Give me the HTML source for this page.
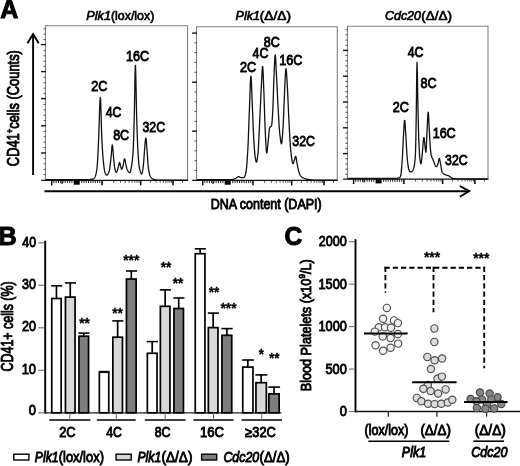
<!DOCTYPE html>
<html><head><meta charset="utf-8"><title>Figure</title>
<style>
html,body{margin:0;padding:0;background:#fff;}
body{width:520px;height:466px;overflow:hidden;font-family:'Liberation Sans', sans-serif;}
svg{display:block;filter:grayscale(100%);}
svg text{font-family:'Liberation Sans', sans-serif;fill:#000;}
</style></head>
<body>
<svg width="520" height="466" viewBox="0 0 520 466">
<rect x="0" y="0" width="520" height="466" fill="#ffffff"/>
<g id="panelA">
<text transform="translate(0.27,18.0) scale(0.9644,1)" font-size="26" font-weight="bold" font-style="normal" stroke="#000" stroke-width="1.0">A</text>
<path d="M45.5,180.3 L45.5,25.7 L187.6,25.7 L187.6,180.3" fill="none" stroke="#808080" stroke-width="1.1"/>
<line x1="41.2" y1="180.3" x2="188.1" y2="180.3" stroke="#111" stroke-width="1.25"/>
<path d="M196.5,180.3 L196.5,26.8 L337.3,26.8 L337.3,180.3" fill="none" stroke="#808080" stroke-width="1.1"/>
<line x1="192.2" y1="180.3" x2="337.8" y2="180.3" stroke="#111" stroke-width="1.25"/>
<path d="M347.4,179.0 L347.4,26.3 L488.0,26.3 L488.0,179.0" fill="none" stroke="#808080" stroke-width="1.1"/>
<line x1="343.09999999999997" y1="179.0" x2="488.5" y2="179.0" stroke="#111" stroke-width="1.25"/>
<line x1="51.7" y1="180.3" x2="51.7" y2="185.3" stroke="#000" stroke-width="1.5"/>
<line x1="102.0" y1="180.3" x2="102.0" y2="185.3" stroke="#000" stroke-width="1.5"/>
<line x1="140.7" y1="180.3" x2="140.7" y2="185.3" stroke="#000" stroke-width="1.5"/>
<line x1="173.0" y1="180.3" x2="173.0" y2="185.3" stroke="#000" stroke-width="1.5"/>
<rect x="73.7" y="180.3" width="6.0" height="4.4" fill="#000"/>
<line x1="62.1" y1="180.3" x2="62.1" y2="183.9" stroke="#111" stroke-width="1.2"/>
<line x1="53.90" y1="180.3" x2="53.90" y2="183.10000000000002" stroke="#111" stroke-width="0.95"/>
<line x1="56.15" y1="180.3" x2="56.15" y2="183.10000000000002" stroke="#111" stroke-width="0.95"/>
<line x1="58.40" y1="180.3" x2="58.40" y2="183.10000000000002" stroke="#111" stroke-width="0.95"/>
<line x1="60.65" y1="180.3" x2="60.65" y2="183.10000000000002" stroke="#111" stroke-width="0.95"/>
<line x1="62.90" y1="180.3" x2="62.90" y2="183.10000000000002" stroke="#111" stroke-width="0.95"/>
<line x1="65.15" y1="180.3" x2="65.15" y2="183.10000000000002" stroke="#111" stroke-width="0.95"/>
<line x1="67.40" y1="180.3" x2="67.40" y2="183.10000000000002" stroke="#111" stroke-width="0.95"/>
<line x1="69.65" y1="180.3" x2="69.65" y2="183.10000000000002" stroke="#111" stroke-width="0.95"/>
<line x1="71.90" y1="180.3" x2="71.90" y2="183.10000000000002" stroke="#111" stroke-width="0.95"/>
<line x1="81.80" y1="180.3" x2="81.80" y2="183.10000000000002" stroke="#111" stroke-width="0.95"/>
<line x1="84.05" y1="180.3" x2="84.05" y2="183.10000000000002" stroke="#111" stroke-width="0.95"/>
<line x1="86.30" y1="180.3" x2="86.30" y2="183.10000000000002" stroke="#111" stroke-width="0.95"/>
<line x1="88.55" y1="180.3" x2="88.55" y2="183.10000000000002" stroke="#111" stroke-width="0.95"/>
<line x1="90.80" y1="180.3" x2="90.80" y2="183.10000000000002" stroke="#111" stroke-width="0.95"/>
<line x1="93.05" y1="180.3" x2="93.05" y2="183.10000000000002" stroke="#111" stroke-width="0.95"/>
<line x1="95.30" y1="180.3" x2="95.30" y2="183.10000000000002" stroke="#111" stroke-width="0.95"/>
<line x1="97.55" y1="180.3" x2="97.55" y2="183.10000000000002" stroke="#111" stroke-width="0.95"/>
<line x1="99.80" y1="180.3" x2="99.80" y2="183.10000000000002" stroke="#111" stroke-width="0.95"/>
<line x1="113.65" y1="180.3" x2="113.65" y2="182.8" stroke="#222" stroke-width="0.8"/>
<line x1="120.46" y1="180.3" x2="120.46" y2="182.8" stroke="#222" stroke-width="0.8"/>
<line x1="125.30" y1="180.3" x2="125.30" y2="182.8" stroke="#222" stroke-width="0.8"/>
<line x1="129.05" y1="180.3" x2="129.05" y2="182.8" stroke="#222" stroke-width="0.8"/>
<line x1="132.11" y1="180.3" x2="132.11" y2="182.8" stroke="#222" stroke-width="0.8"/>
<line x1="134.71" y1="180.3" x2="134.71" y2="182.8" stroke="#222" stroke-width="0.8"/>
<line x1="136.95" y1="180.3" x2="136.95" y2="182.8" stroke="#222" stroke-width="0.8"/>
<line x1="138.93" y1="180.3" x2="138.93" y2="182.8" stroke="#222" stroke-width="0.8"/>
<line x1="150.42" y1="180.3" x2="150.42" y2="182.8" stroke="#222" stroke-width="0.8"/>
<line x1="156.11" y1="180.3" x2="156.11" y2="182.8" stroke="#222" stroke-width="0.8"/>
<line x1="160.15" y1="180.3" x2="160.15" y2="182.8" stroke="#222" stroke-width="0.8"/>
<line x1="163.28" y1="180.3" x2="163.28" y2="182.8" stroke="#222" stroke-width="0.8"/>
<line x1="165.83" y1="180.3" x2="165.83" y2="182.8" stroke="#222" stroke-width="0.8"/>
<line x1="168.00" y1="180.3" x2="168.00" y2="182.8" stroke="#222" stroke-width="0.8"/>
<line x1="169.87" y1="180.3" x2="169.87" y2="182.8" stroke="#222" stroke-width="0.8"/>
<line x1="171.52" y1="180.3" x2="171.52" y2="182.8" stroke="#222" stroke-width="0.8"/>
<line x1="182.48" y1="180.3" x2="182.48" y2="182.8" stroke="#222" stroke-width="0.8"/>
<line x1="202.7" y1="180.3" x2="202.7" y2="185.3" stroke="#000" stroke-width="1.5"/>
<line x1="253.0" y1="180.3" x2="253.0" y2="185.3" stroke="#000" stroke-width="1.5"/>
<line x1="291.7" y1="180.3" x2="291.7" y2="185.3" stroke="#000" stroke-width="1.5"/>
<line x1="324.0" y1="180.3" x2="324.0" y2="185.3" stroke="#000" stroke-width="1.5"/>
<rect x="224.7" y="180.3" width="6.0" height="4.4" fill="#000"/>
<line x1="213.1" y1="180.3" x2="213.1" y2="183.9" stroke="#111" stroke-width="1.2"/>
<line x1="204.90" y1="180.3" x2="204.90" y2="183.10000000000002" stroke="#111" stroke-width="0.95"/>
<line x1="207.15" y1="180.3" x2="207.15" y2="183.10000000000002" stroke="#111" stroke-width="0.95"/>
<line x1="209.40" y1="180.3" x2="209.40" y2="183.10000000000002" stroke="#111" stroke-width="0.95"/>
<line x1="211.65" y1="180.3" x2="211.65" y2="183.10000000000002" stroke="#111" stroke-width="0.95"/>
<line x1="213.90" y1="180.3" x2="213.90" y2="183.10000000000002" stroke="#111" stroke-width="0.95"/>
<line x1="216.15" y1="180.3" x2="216.15" y2="183.10000000000002" stroke="#111" stroke-width="0.95"/>
<line x1="218.40" y1="180.3" x2="218.40" y2="183.10000000000002" stroke="#111" stroke-width="0.95"/>
<line x1="220.65" y1="180.3" x2="220.65" y2="183.10000000000002" stroke="#111" stroke-width="0.95"/>
<line x1="222.90" y1="180.3" x2="222.90" y2="183.10000000000002" stroke="#111" stroke-width="0.95"/>
<line x1="232.80" y1="180.3" x2="232.80" y2="183.10000000000002" stroke="#111" stroke-width="0.95"/>
<line x1="235.05" y1="180.3" x2="235.05" y2="183.10000000000002" stroke="#111" stroke-width="0.95"/>
<line x1="237.30" y1="180.3" x2="237.30" y2="183.10000000000002" stroke="#111" stroke-width="0.95"/>
<line x1="239.55" y1="180.3" x2="239.55" y2="183.10000000000002" stroke="#111" stroke-width="0.95"/>
<line x1="241.80" y1="180.3" x2="241.80" y2="183.10000000000002" stroke="#111" stroke-width="0.95"/>
<line x1="244.05" y1="180.3" x2="244.05" y2="183.10000000000002" stroke="#111" stroke-width="0.95"/>
<line x1="246.30" y1="180.3" x2="246.30" y2="183.10000000000002" stroke="#111" stroke-width="0.95"/>
<line x1="248.55" y1="180.3" x2="248.55" y2="183.10000000000002" stroke="#111" stroke-width="0.95"/>
<line x1="250.80" y1="180.3" x2="250.80" y2="183.10000000000002" stroke="#111" stroke-width="0.95"/>
<line x1="264.65" y1="180.3" x2="264.65" y2="182.8" stroke="#222" stroke-width="0.8"/>
<line x1="271.46" y1="180.3" x2="271.46" y2="182.8" stroke="#222" stroke-width="0.8"/>
<line x1="276.30" y1="180.3" x2="276.30" y2="182.8" stroke="#222" stroke-width="0.8"/>
<line x1="280.05" y1="180.3" x2="280.05" y2="182.8" stroke="#222" stroke-width="0.8"/>
<line x1="283.11" y1="180.3" x2="283.11" y2="182.8" stroke="#222" stroke-width="0.8"/>
<line x1="285.71" y1="180.3" x2="285.71" y2="182.8" stroke="#222" stroke-width="0.8"/>
<line x1="287.95" y1="180.3" x2="287.95" y2="182.8" stroke="#222" stroke-width="0.8"/>
<line x1="289.93" y1="180.3" x2="289.93" y2="182.8" stroke="#222" stroke-width="0.8"/>
<line x1="301.42" y1="180.3" x2="301.42" y2="182.8" stroke="#222" stroke-width="0.8"/>
<line x1="307.11" y1="180.3" x2="307.11" y2="182.8" stroke="#222" stroke-width="0.8"/>
<line x1="311.15" y1="180.3" x2="311.15" y2="182.8" stroke="#222" stroke-width="0.8"/>
<line x1="314.28" y1="180.3" x2="314.28" y2="182.8" stroke="#222" stroke-width="0.8"/>
<line x1="316.83" y1="180.3" x2="316.83" y2="182.8" stroke="#222" stroke-width="0.8"/>
<line x1="319.00" y1="180.3" x2="319.00" y2="182.8" stroke="#222" stroke-width="0.8"/>
<line x1="320.87" y1="180.3" x2="320.87" y2="182.8" stroke="#222" stroke-width="0.8"/>
<line x1="322.52" y1="180.3" x2="322.52" y2="182.8" stroke="#222" stroke-width="0.8"/>
<line x1="333.48" y1="180.3" x2="333.48" y2="182.8" stroke="#222" stroke-width="0.8"/>
<line x1="353.59999999999997" y1="179.0" x2="353.59999999999997" y2="184.0" stroke="#000" stroke-width="1.5"/>
<line x1="403.9" y1="179.0" x2="403.9" y2="184.0" stroke="#000" stroke-width="1.5"/>
<line x1="442.59999999999997" y1="179.0" x2="442.59999999999997" y2="184.0" stroke="#000" stroke-width="1.5"/>
<line x1="474.9" y1="179.0" x2="474.9" y2="184.0" stroke="#000" stroke-width="1.5"/>
<rect x="375.59999999999997" y="179.0" width="6.0" height="4.4" fill="#000"/>
<line x1="364.0" y1="179.0" x2="364.0" y2="182.6" stroke="#111" stroke-width="1.2"/>
<line x1="355.80" y1="179.0" x2="355.80" y2="181.8" stroke="#111" stroke-width="0.95"/>
<line x1="358.05" y1="179.0" x2="358.05" y2="181.8" stroke="#111" stroke-width="0.95"/>
<line x1="360.30" y1="179.0" x2="360.30" y2="181.8" stroke="#111" stroke-width="0.95"/>
<line x1="362.55" y1="179.0" x2="362.55" y2="181.8" stroke="#111" stroke-width="0.95"/>
<line x1="364.80" y1="179.0" x2="364.80" y2="181.8" stroke="#111" stroke-width="0.95"/>
<line x1="367.05" y1="179.0" x2="367.05" y2="181.8" stroke="#111" stroke-width="0.95"/>
<line x1="369.30" y1="179.0" x2="369.30" y2="181.8" stroke="#111" stroke-width="0.95"/>
<line x1="371.55" y1="179.0" x2="371.55" y2="181.8" stroke="#111" stroke-width="0.95"/>
<line x1="373.80" y1="179.0" x2="373.80" y2="181.8" stroke="#111" stroke-width="0.95"/>
<line x1="383.70" y1="179.0" x2="383.70" y2="181.8" stroke="#111" stroke-width="0.95"/>
<line x1="385.95" y1="179.0" x2="385.95" y2="181.8" stroke="#111" stroke-width="0.95"/>
<line x1="388.20" y1="179.0" x2="388.20" y2="181.8" stroke="#111" stroke-width="0.95"/>
<line x1="390.45" y1="179.0" x2="390.45" y2="181.8" stroke="#111" stroke-width="0.95"/>
<line x1="392.70" y1="179.0" x2="392.70" y2="181.8" stroke="#111" stroke-width="0.95"/>
<line x1="394.95" y1="179.0" x2="394.95" y2="181.8" stroke="#111" stroke-width="0.95"/>
<line x1="397.20" y1="179.0" x2="397.20" y2="181.8" stroke="#111" stroke-width="0.95"/>
<line x1="399.45" y1="179.0" x2="399.45" y2="181.8" stroke="#111" stroke-width="0.95"/>
<line x1="401.70" y1="179.0" x2="401.70" y2="181.8" stroke="#111" stroke-width="0.95"/>
<line x1="415.55" y1="179.0" x2="415.55" y2="181.5" stroke="#222" stroke-width="0.8"/>
<line x1="422.36" y1="179.0" x2="422.36" y2="181.5" stroke="#222" stroke-width="0.8"/>
<line x1="427.20" y1="179.0" x2="427.20" y2="181.5" stroke="#222" stroke-width="0.8"/>
<line x1="430.95" y1="179.0" x2="430.95" y2="181.5" stroke="#222" stroke-width="0.8"/>
<line x1="434.01" y1="179.0" x2="434.01" y2="181.5" stroke="#222" stroke-width="0.8"/>
<line x1="436.61" y1="179.0" x2="436.61" y2="181.5" stroke="#222" stroke-width="0.8"/>
<line x1="438.85" y1="179.0" x2="438.85" y2="181.5" stroke="#222" stroke-width="0.8"/>
<line x1="440.83" y1="179.0" x2="440.83" y2="181.5" stroke="#222" stroke-width="0.8"/>
<line x1="452.32" y1="179.0" x2="452.32" y2="181.5" stroke="#222" stroke-width="0.8"/>
<line x1="458.01" y1="179.0" x2="458.01" y2="181.5" stroke="#222" stroke-width="0.8"/>
<line x1="462.05" y1="179.0" x2="462.05" y2="181.5" stroke="#222" stroke-width="0.8"/>
<line x1="465.18" y1="179.0" x2="465.18" y2="181.5" stroke="#222" stroke-width="0.8"/>
<line x1="467.73" y1="179.0" x2="467.73" y2="181.5" stroke="#222" stroke-width="0.8"/>
<line x1="469.90" y1="179.0" x2="469.90" y2="181.5" stroke="#222" stroke-width="0.8"/>
<line x1="471.77" y1="179.0" x2="471.77" y2="181.5" stroke="#222" stroke-width="0.8"/>
<line x1="473.42" y1="179.0" x2="473.42" y2="181.5" stroke="#222" stroke-width="0.8"/>
<line x1="484.38" y1="179.0" x2="484.38" y2="181.5" stroke="#222" stroke-width="0.8"/>
<line x1="41.1" y1="44.60" x2="45.9" y2="44.60" stroke="#111" stroke-width="1.4"/>
<line x1="41.1" y1="71.60" x2="45.9" y2="71.60" stroke="#111" stroke-width="1.4"/>
<line x1="41.1" y1="98.60" x2="45.9" y2="98.60" stroke="#111" stroke-width="1.4"/>
<line x1="41.1" y1="125.80" x2="45.9" y2="125.80" stroke="#111" stroke-width="1.4"/>
<line x1="41.1" y1="153.00" x2="45.9" y2="153.00" stroke="#111" stroke-width="1.4"/>
<line x1="43.5" y1="174.60" x2="45.8" y2="174.60" stroke="#444" stroke-width="0.9"/>
<line x1="43.5" y1="169.20" x2="45.8" y2="169.20" stroke="#444" stroke-width="0.9"/>
<line x1="43.5" y1="163.80" x2="45.8" y2="163.80" stroke="#444" stroke-width="0.9"/>
<line x1="43.5" y1="158.40" x2="45.8" y2="158.40" stroke="#444" stroke-width="0.9"/>
<line x1="43.5" y1="147.60" x2="45.8" y2="147.60" stroke="#444" stroke-width="0.9"/>
<line x1="43.5" y1="142.20" x2="45.8" y2="142.20" stroke="#444" stroke-width="0.9"/>
<line x1="43.5" y1="136.80" x2="45.8" y2="136.80" stroke="#444" stroke-width="0.9"/>
<line x1="43.5" y1="131.40" x2="45.8" y2="131.40" stroke="#444" stroke-width="0.9"/>
<line x1="43.5" y1="120.60" x2="45.8" y2="120.60" stroke="#444" stroke-width="0.9"/>
<line x1="43.5" y1="115.20" x2="45.8" y2="115.20" stroke="#444" stroke-width="0.9"/>
<line x1="43.5" y1="109.80" x2="45.8" y2="109.80" stroke="#444" stroke-width="0.9"/>
<line x1="43.5" y1="104.40" x2="45.8" y2="104.40" stroke="#444" stroke-width="0.9"/>
<line x1="43.5" y1="93.60" x2="45.8" y2="93.60" stroke="#444" stroke-width="0.9"/>
<line x1="43.5" y1="88.20" x2="45.8" y2="88.20" stroke="#444" stroke-width="0.9"/>
<line x1="43.5" y1="82.80" x2="45.8" y2="82.80" stroke="#444" stroke-width="0.9"/>
<line x1="43.5" y1="77.40" x2="45.8" y2="77.40" stroke="#444" stroke-width="0.9"/>
<line x1="43.5" y1="66.60" x2="45.8" y2="66.60" stroke="#444" stroke-width="0.9"/>
<line x1="43.5" y1="61.20" x2="45.8" y2="61.20" stroke="#444" stroke-width="0.9"/>
<line x1="43.5" y1="55.80" x2="45.8" y2="55.80" stroke="#444" stroke-width="0.9"/>
<line x1="43.5" y1="50.40" x2="45.8" y2="50.40" stroke="#444" stroke-width="0.9"/>
<line x1="43.5" y1="39.60" x2="45.8" y2="39.60" stroke="#444" stroke-width="0.9"/>
<line x1="43.5" y1="34.20" x2="45.8" y2="34.20" stroke="#444" stroke-width="0.9"/>
<line x1="43.5" y1="28.80" x2="45.8" y2="28.80" stroke="#444" stroke-width="0.9"/>
<line x1="192.1" y1="33.10" x2="196.9" y2="33.10" stroke="#111" stroke-width="1.4"/>
<line x1="192.1" y1="82.20" x2="196.9" y2="82.20" stroke="#111" stroke-width="1.4"/>
<line x1="192.1" y1="131.20" x2="196.9" y2="131.20" stroke="#111" stroke-width="1.4"/>
<line x1="194.5" y1="170.48" x2="196.8" y2="170.48" stroke="#444" stroke-width="0.9"/>
<line x1="194.5" y1="160.66" x2="196.8" y2="160.66" stroke="#444" stroke-width="0.9"/>
<line x1="194.5" y1="150.84" x2="196.8" y2="150.84" stroke="#444" stroke-width="0.9"/>
<line x1="194.5" y1="141.02" x2="196.8" y2="141.02" stroke="#444" stroke-width="0.9"/>
<line x1="194.5" y1="121.38" x2="196.8" y2="121.38" stroke="#444" stroke-width="0.9"/>
<line x1="194.5" y1="111.56" x2="196.8" y2="111.56" stroke="#444" stroke-width="0.9"/>
<line x1="194.5" y1="101.74" x2="196.8" y2="101.74" stroke="#444" stroke-width="0.9"/>
<line x1="194.5" y1="91.92" x2="196.8" y2="91.92" stroke="#444" stroke-width="0.9"/>
<line x1="194.5" y1="72.28" x2="196.8" y2="72.28" stroke="#444" stroke-width="0.9"/>
<line x1="194.5" y1="62.46" x2="196.8" y2="62.46" stroke="#444" stroke-width="0.9"/>
<line x1="194.5" y1="52.64" x2="196.8" y2="52.64" stroke="#444" stroke-width="0.9"/>
<line x1="194.5" y1="42.82" x2="196.8" y2="42.82" stroke="#444" stroke-width="0.9"/>
<line x1="343.0" y1="50.40" x2="347.79999999999995" y2="50.40" stroke="#111" stroke-width="1.4"/>
<line x1="343.0" y1="76.20" x2="347.79999999999995" y2="76.20" stroke="#111" stroke-width="1.4"/>
<line x1="343.0" y1="102.00" x2="347.79999999999995" y2="102.00" stroke="#111" stroke-width="1.4"/>
<line x1="343.0" y1="127.80" x2="347.79999999999995" y2="127.80" stroke="#111" stroke-width="1.4"/>
<line x1="343.0" y1="153.60" x2="347.79999999999995" y2="153.60" stroke="#111" stroke-width="1.4"/>
<line x1="345.4" y1="174.24" x2="347.7" y2="174.24" stroke="#444" stroke-width="0.9"/>
<line x1="345.4" y1="169.08" x2="347.7" y2="169.08" stroke="#444" stroke-width="0.9"/>
<line x1="345.4" y1="163.92" x2="347.7" y2="163.92" stroke="#444" stroke-width="0.9"/>
<line x1="345.4" y1="158.76" x2="347.7" y2="158.76" stroke="#444" stroke-width="0.9"/>
<line x1="345.4" y1="148.44" x2="347.7" y2="148.44" stroke="#444" stroke-width="0.9"/>
<line x1="345.4" y1="143.28" x2="347.7" y2="143.28" stroke="#444" stroke-width="0.9"/>
<line x1="345.4" y1="138.12" x2="347.7" y2="138.12" stroke="#444" stroke-width="0.9"/>
<line x1="345.4" y1="132.96" x2="347.7" y2="132.96" stroke="#444" stroke-width="0.9"/>
<line x1="345.4" y1="122.64" x2="347.7" y2="122.64" stroke="#444" stroke-width="0.9"/>
<line x1="345.4" y1="117.48" x2="347.7" y2="117.48" stroke="#444" stroke-width="0.9"/>
<line x1="345.4" y1="112.32" x2="347.7" y2="112.32" stroke="#444" stroke-width="0.9"/>
<line x1="345.4" y1="107.16" x2="347.7" y2="107.16" stroke="#444" stroke-width="0.9"/>
<line x1="345.4" y1="96.84" x2="347.7" y2="96.84" stroke="#444" stroke-width="0.9"/>
<line x1="345.4" y1="91.68" x2="347.7" y2="91.68" stroke="#444" stroke-width="0.9"/>
<line x1="345.4" y1="86.52" x2="347.7" y2="86.52" stroke="#444" stroke-width="0.9"/>
<line x1="345.4" y1="81.36" x2="347.7" y2="81.36" stroke="#444" stroke-width="0.9"/>
<line x1="345.4" y1="71.04" x2="347.7" y2="71.04" stroke="#444" stroke-width="0.9"/>
<line x1="345.4" y1="65.88" x2="347.7" y2="65.88" stroke="#444" stroke-width="0.9"/>
<line x1="345.4" y1="60.72" x2="347.7" y2="60.72" stroke="#444" stroke-width="0.9"/>
<line x1="345.4" y1="55.56" x2="347.7" y2="55.56" stroke="#444" stroke-width="0.9"/>
<line x1="345.4" y1="45.24" x2="347.7" y2="45.24" stroke="#444" stroke-width="0.9"/>
<line x1="345.4" y1="40.08" x2="347.7" y2="40.08" stroke="#444" stroke-width="0.9"/>
<line x1="345.4" y1="34.92" x2="347.7" y2="34.92" stroke="#444" stroke-width="0.9"/>
<line x1="345.4" y1="29.76" x2="347.7" y2="29.76" stroke="#444" stroke-width="0.9"/>
<path d="M45.50,179.60 L45.75,179.60 L46.00,179.60 L46.25,179.60 L46.50,179.60 L46.75,179.60 L47.00,179.60 L47.25,179.60 L47.50,179.60 L47.75,179.60 L48.00,179.60 L48.25,179.60 L48.50,179.60 L48.75,179.60 L49.00,179.60 L49.25,179.60 L49.50,179.60 L49.75,179.60 L50.00,179.60 L50.25,179.60 L50.50,179.60 L50.75,179.60 L51.00,179.60 L51.25,179.60 L51.50,179.60 L51.75,179.60 L52.00,179.60 L52.25,179.60 L52.50,179.60 L52.75,179.60 L53.00,179.60 L53.25,179.60 L53.50,179.60 L53.75,179.60 L54.00,179.60 L54.25,179.60 L54.50,179.60 L54.75,179.60 L55.00,179.60 L55.25,179.60 L55.50,179.60 L55.75,179.60 L56.00,179.60 L56.25,179.60 L56.50,179.60 L56.75,179.60 L57.00,179.60 L57.25,179.60 L57.50,179.60 L57.75,179.60 L58.00,179.60 L58.25,179.60 L58.50,179.60 L58.75,179.60 L59.00,179.60 L59.25,179.60 L59.50,179.60 L59.75,179.60 L60.00,179.60 L60.25,179.60 L60.50,179.60 L60.75,179.60 L61.00,179.60 L61.25,179.60 L61.50,179.60 L61.75,179.60 L62.00,179.60 L62.25,179.60 L62.50,179.60 L62.75,179.60 L63.00,179.60 L63.25,179.60 L63.50,179.60 L63.75,179.60 L64.00,179.60 L64.25,179.60 L64.50,179.60 L64.75,179.60 L65.00,179.60 L65.25,179.60 L65.50,179.60 L65.75,179.60 L66.00,179.60 L66.25,179.60 L66.50,179.60 L66.75,179.60 L67.00,179.60 L67.25,179.60 L67.50,179.60 L67.75,179.60 L68.00,179.60 L68.25,179.60 L68.50,179.60 L68.75,179.60 L69.00,179.60 L69.25,179.60 L69.50,179.60 L69.75,179.60 L70.00,179.60 L70.25,179.60 L70.50,179.60 L70.75,179.60 L71.00,179.60 L71.25,179.60 L71.50,179.60 L71.75,179.60 L72.00,179.60 L72.25,179.60 L72.50,179.60 L72.75,179.60 L73.00,179.60 L73.25,179.60 L73.50,179.60 L73.75,179.60 L74.00,179.60 L74.25,179.60 L74.50,179.60 L74.75,179.60 L75.00,179.60 L75.25,179.60 L75.50,179.60 L75.75,179.60 L76.00,179.60 L76.25,179.60 L76.50,179.60 L76.75,179.60 L77.00,179.60 L77.25,179.60 L77.50,179.60 L77.75,179.60 L78.00,179.60 L78.25,179.60 L78.50,179.60 L78.75,179.60 L79.00,179.60 L79.25,179.60 L79.50,179.60 L79.75,179.60 L80.00,179.60 L80.25,179.60 L80.50,179.60 L80.75,179.60 L81.00,179.60 L81.25,179.60 L81.50,179.60 L81.75,179.60 L82.00,179.60 L82.25,179.60 L82.50,179.60 L82.75,179.60 L83.00,179.60 L83.25,179.60 L83.50,179.60 L83.75,179.60 L84.00,179.60 L84.25,179.60 L84.50,179.60 L84.75,179.60 L85.00,179.60 L85.25,179.60 L85.50,179.60 L85.75,179.60 L86.00,179.60 L86.25,179.60 L86.50,179.60 L86.75,179.60 L87.00,179.60 L87.25,179.60 L87.50,179.60 L87.75,179.60 L88.00,179.60 L88.25,179.60 L88.50,179.59 L88.75,179.59 L89.00,179.58 L89.25,179.57 L89.50,179.55 L89.75,179.54 L90.00,179.52 L90.25,179.50 L90.50,179.47 L90.75,179.45 L91.00,179.42 L91.25,179.39 L91.50,179.36 L91.75,179.32 L92.00,179.28 L92.25,179.24 L92.50,179.20 L92.75,179.14 L93.00,179.04 L93.25,178.90 L93.50,178.72 L93.75,178.52 L94.00,178.28 L94.25,178.00 L94.50,177.70 L94.75,177.36 L95.00,177.00 L95.25,176.52 L95.50,175.86 L95.75,175.00 L96.00,173.95 L96.25,172.73 L96.50,171.32 L96.75,169.75 L97.00,168.00 L97.25,165.54 L97.50,161.99 L97.75,157.60 L98.00,152.65 L98.25,147.39 L98.50,142.08 L98.75,136.50 L99.00,129.22 L99.25,120.98 L99.50,112.72 L99.75,105.42 L100.00,100.01 L100.25,97.48 L100.50,98.82 L100.75,103.90 L101.00,111.48 L101.25,120.30 L101.50,129.10 L101.75,136.62 L102.00,141.87 L102.25,146.34 L102.50,150.51 L102.75,154.30 L103.00,157.66 L103.25,160.53 L103.50,162.90 L103.75,165.08 L104.00,167.11 L104.25,168.92 L104.50,170.46 L104.75,171.67 L105.00,172.50 L105.25,173.10 L105.50,173.65 L105.75,174.15 L106.00,174.56 L106.25,174.89 L106.50,175.10 L106.75,175.20 L107.00,175.16 L107.25,175.01 L107.50,174.76 L107.75,174.41 L108.00,173.97 L108.25,173.46 L108.50,172.88 L108.75,172.25 L109.00,171.57 L109.25,170.84 L109.50,169.79 L109.75,168.32 L110.00,166.54 L110.25,164.53 L110.50,162.38 L110.75,160.17 L111.00,158.00 L111.25,155.33 L111.50,152.03 L111.75,148.75 L112.00,146.13 L112.25,144.84 L112.50,145.40 L112.75,147.49 L113.00,150.53 L113.25,153.89 L113.50,156.98 L113.75,159.46 L114.00,162.01 L114.25,164.50 L114.50,166.66 L114.75,168.27 L115.00,169.35 L115.25,170.34 L115.50,171.20 L115.75,171.87 L116.00,172.29 L116.25,172.40 L116.50,172.23 L116.75,171.87 L117.00,171.34 L117.25,170.69 L117.50,169.93 L117.75,169.12 L118.00,168.29 L118.25,167.47 L118.50,166.65 L118.75,165.52 L119.00,164.24 L119.25,163.12 L119.50,162.47 L119.75,162.55 L120.00,163.35 L120.25,164.53 L120.50,165.74 L120.75,166.65 L121.00,167.49 L121.25,168.32 L121.50,168.97 L121.75,169.29 L122.00,169.15 L122.25,168.61 L122.50,167.78 L122.75,166.80 L123.00,165.77 L123.25,164.81 L123.50,163.60 L123.75,162.15 L124.00,160.71 L124.25,159.53 L124.50,158.87 L124.75,158.94 L125.00,159.71 L125.25,160.93 L125.50,162.38 L125.75,163.81 L126.00,165.00 L126.25,166.02 L126.50,167.07 L126.75,168.08 L127.00,168.98 L127.25,169.69 L127.50,170.17 L127.75,170.60 L128.00,170.99 L128.25,171.37 L128.50,171.70 L128.75,171.99 L129.00,172.24 L129.25,172.42 L129.50,172.55 L129.75,172.60 L130.00,172.48 L130.25,172.03 L130.50,171.28 L130.75,170.31 L131.00,169.16 L131.25,167.88 L131.50,166.54 L131.75,165.14 L132.00,163.46 L132.25,161.45 L132.50,159.06 L132.75,156.25 L133.00,152.98 L133.25,149.15 L133.50,143.35 L133.75,135.50 L134.00,126.41 L134.25,116.89 L134.50,105.58 L134.75,90.70 L135.00,76.27 L135.25,66.49 L135.50,65.34 L135.75,72.56 L136.00,84.81 L136.25,98.80 L136.50,111.22 L136.75,119.93 L137.00,127.83 L137.25,135.14 L137.50,141.62 L137.75,147.06 L138.00,151.63 L138.25,155.94 L138.50,159.84 L138.75,163.15 L139.00,165.67 L139.25,167.25 L139.50,168.43 L139.75,169.52 L140.00,170.52 L140.25,171.42 L140.50,172.19 L140.75,172.84 L141.00,173.36 L141.25,173.73 L141.50,173.95 L141.75,173.99 L142.00,173.59 L142.25,172.71 L142.50,171.43 L142.75,169.85 L143.00,168.06 L143.25,166.16 L143.50,164.13 L143.75,161.27 L144.00,157.73 L144.25,153.97 L144.50,150.41 L144.75,147.45 L145.00,144.48 L145.25,141.53 L145.50,139.19 L145.75,138.04 L146.00,138.58 L146.25,140.61 L146.50,143.58 L146.75,146.90 L147.00,150.00 L147.25,153.16 L147.50,156.78 L147.75,160.50 L148.00,163.95 L148.25,166.76 L148.50,168.68 L148.75,170.28 L149.00,171.73 L149.25,173.03 L149.50,174.14 L149.75,175.07 L150.00,175.79 L150.25,176.28 L150.50,176.68 L150.75,177.05 L151.00,177.39 L151.25,177.70 L151.50,177.98 L151.75,178.23 L152.00,178.45 L152.25,178.65 L152.50,178.82 L152.75,178.96 L153.00,179.08 L153.25,179.18 L153.50,179.27 L153.75,179.35 L154.00,179.42 L154.25,179.50 L154.50,179.57 L154.75,179.63 L155.00,179.70 L155.25,179.76 L155.50,179.81 L155.75,179.86 L156.00,179.91 L156.25,179.95 L156.50,179.99 L156.75,180.02 L157.00,180.05 L157.25,180.07 L157.50,180.08 L157.75,180.09 L158.00,180.10 L158.25,180.10 L158.50,180.10 L158.75,180.11 L159.00,180.11 L159.25,180.11 L159.50,180.11 L159.75,180.11 L160.00,180.12 L160.25,180.12 L160.50,180.12 L160.75,180.12 L161.00,180.12 L161.25,180.13 L161.50,180.13 L161.75,180.13 L162.00,180.13 L162.25,180.13 L162.50,180.13 L162.75,180.14 L163.00,180.14 L163.25,180.14 L163.50,180.14 L163.75,180.14 L164.00,180.14 L164.25,180.15 L164.50,180.15 L164.75,180.15 L165.00,180.15 L165.25,180.15 L165.50,180.15 L165.75,180.15 L166.00,180.15 L166.25,180.16 L166.50,180.16 L166.75,180.16 L167.00,180.16 L167.25,180.16 L167.50,180.16 L167.75,180.16 L168.00,180.16 L168.25,180.17 L168.50,180.17 L168.75,180.17 L169.00,180.17 L169.25,180.17 L169.50,180.17 L169.75,180.17 L170.00,180.17 L170.25,180.17 L170.50,180.17 L170.75,180.18 L171.00,180.18 L171.25,180.18 L171.50,180.18 L171.75,180.18 L172.00,180.18 L172.25,180.18 L172.50,180.18 L172.75,180.18 L173.00,180.18 L173.25,180.18 L173.50,180.18 L173.75,180.18 L174.00,180.19 L174.25,180.19 L174.50,180.19 L174.75,180.19 L175.00,180.19 L175.25,180.19 L175.50,180.19 L175.75,180.19 L176.00,180.19 L176.25,180.19 L176.50,180.19 L176.75,180.19 L177.00,180.19 L177.25,180.19 L177.50,180.19 L177.75,180.19 L178.00,180.19 L178.25,180.19 L178.50,180.19 L178.75,180.19 L179.00,180.20 L179.25,180.20 L179.50,180.20 L179.75,180.20 L180.00,180.20 L180.25,180.20 L180.50,180.20 L180.75,180.20 L181.00,180.20 L181.25,180.20 L181.50,180.20 L181.75,180.20 L182.00,180.20 L182.25,180.20 L182.50,180.20 L182.75,180.20 L183.00,180.20 L183.25,180.20 L183.50,180.20 L183.75,180.20 L184.00,180.20 L184.25,180.20 L184.50,180.20 L184.75,180.20 L185.00,180.20 L185.25,180.20 L185.50,180.20 L185.75,180.20 L186.00,180.20 L186.25,180.20 L186.50,180.20 L186.75,180.20 L187.00,180.20 L187.25,180.20 L187.50,180.20" fill="none" stroke="#111" stroke-width="1.3" stroke-linejoin="round"/>
<path d="M197.00,179.60 L197.25,179.60 L197.50,179.60 L197.75,179.60 L198.00,179.60 L198.25,179.60 L198.50,179.60 L198.75,179.60 L199.00,179.60 L199.25,179.60 L199.50,179.60 L199.75,179.60 L200.00,179.60 L200.25,179.60 L200.50,179.60 L200.75,179.60 L201.00,179.60 L201.25,179.60 L201.50,179.60 L201.75,179.60 L202.00,179.60 L202.25,179.60 L202.50,179.60 L202.75,179.60 L203.00,179.60 L203.25,179.60 L203.50,179.60 L203.75,179.60 L204.00,179.60 L204.25,179.60 L204.50,179.60 L204.75,179.60 L205.00,179.60 L205.25,179.60 L205.50,179.60 L205.75,179.60 L206.00,179.60 L206.25,179.60 L206.50,179.60 L206.75,179.60 L207.00,179.60 L207.25,179.60 L207.50,179.60 L207.75,179.60 L208.00,179.60 L208.25,179.60 L208.50,179.60 L208.75,179.60 L209.00,179.60 L209.25,179.60 L209.50,179.60 L209.75,179.60 L210.00,179.60 L210.25,179.60 L210.50,179.60 L210.75,179.60 L211.00,179.60 L211.25,179.60 L211.50,179.60 L211.75,179.60 L212.00,179.60 L212.25,179.60 L212.50,179.60 L212.75,179.60 L213.00,179.60 L213.25,179.60 L213.50,179.60 L213.75,179.60 L214.00,179.60 L214.25,179.60 L214.50,179.60 L214.75,179.60 L215.00,179.60 L215.25,179.60 L215.50,179.60 L215.75,179.60 L216.00,179.60 L216.25,179.60 L216.50,179.60 L216.75,179.60 L217.00,179.60 L217.25,179.60 L217.50,179.60 L217.75,179.60 L218.00,179.60 L218.25,179.60 L218.50,179.60 L218.75,179.60 L219.00,179.60 L219.25,179.60 L219.50,179.60 L219.75,179.60 L220.00,179.60 L220.25,179.60 L220.50,179.60 L220.75,179.60 L221.00,179.60 L221.25,179.60 L221.50,179.60 L221.75,179.60 L222.00,179.60 L222.25,179.60 L222.50,179.60 L222.75,179.60 L223.00,179.60 L223.25,179.60 L223.50,179.60 L223.75,179.60 L224.00,179.60 L224.25,179.60 L224.50,179.60 L224.75,179.60 L225.00,179.60 L225.25,179.60 L225.50,179.60 L225.75,179.60 L226.00,179.60 L226.25,179.60 L226.50,179.60 L226.75,179.60 L227.00,179.60 L227.25,179.60 L227.50,179.60 L227.75,179.60 L228.00,179.60 L228.25,179.60 L228.50,179.60 L228.75,179.60 L229.00,179.60 L229.25,179.60 L229.50,179.60 L229.75,179.60 L230.00,179.60 L230.25,179.60 L230.50,179.60 L230.75,179.60 L231.00,179.60 L231.25,179.60 L231.50,179.60 L231.75,179.60 L232.00,179.60 L232.25,179.59 L232.50,179.56 L232.75,179.52 L233.00,179.47 L233.25,179.40 L233.50,179.32 L233.75,179.23 L234.00,179.14 L234.25,179.04 L234.50,178.93 L234.75,178.82 L235.00,178.71 L235.25,178.61 L235.50,178.50 L235.75,178.38 L236.00,178.22 L236.25,178.04 L236.50,177.84 L236.75,177.64 L237.00,177.43 L237.25,177.23 L237.50,177.04 L237.75,176.88 L238.00,176.75 L238.25,176.65 L238.50,176.60 L238.75,176.61 L239.00,176.67 L239.25,176.78 L239.50,176.92 L239.75,177.07 L240.00,177.22 L240.25,177.37 L240.50,177.49 L240.75,177.57 L241.00,177.60 L241.25,177.60 L241.50,177.60 L241.75,177.59 L242.00,177.59 L242.25,177.58 L242.50,177.58 L242.75,177.57 L243.00,177.56 L243.25,177.55 L243.50,177.53 L243.75,177.52 L244.00,177.50 L244.25,177.37 L244.50,177.05 L244.75,176.54 L245.00,175.87 L245.25,175.06 L245.50,174.13 L245.75,173.10 L246.00,172.00 L246.25,170.50 L246.50,168.32 L246.75,165.58 L247.00,162.36 L247.25,158.76 L247.50,154.88 L247.75,150.83 L248.00,146.27 L248.25,140.61 L248.50,134.17 L248.75,127.30 L249.00,120.37 L249.25,113.71 L249.50,107.49 L249.75,100.40 L250.00,92.86 L250.25,85.76 L250.50,80.02 L250.75,76.53 L251.00,76.18 L251.25,79.01 L251.50,84.12 L251.75,90.60 L252.00,97.49 L252.25,103.87 L252.50,109.63 L252.75,115.90 L253.00,122.35 L253.25,128.63 L253.50,134.36 L253.75,139.18 L254.00,143.13 L254.25,146.82 L254.50,150.18 L254.75,153.11 L255.00,155.52 L255.25,157.32 L255.50,158.88 L255.75,160.29 L256.00,161.41 L256.25,162.08 L256.50,162.15 L256.75,161.58 L257.00,160.50 L257.25,159.02 L257.50,157.28 L257.75,155.38 L258.00,153.12 L258.25,149.91 L258.50,145.91 L258.75,141.29 L259.00,136.23 L259.25,130.89 L259.50,125.46 L259.75,120.10 L260.00,115.00 L260.25,109.83 L260.50,104.31 L260.75,98.64 L261.00,93.02 L261.25,87.67 L261.50,82.78 L261.75,78.24 L262.00,73.31 L262.25,69.00 L262.50,66.46 L262.75,66.84 L263.00,70.30 L263.25,75.82 L263.50,82.35 L263.75,88.81 L264.00,95.15 L264.25,102.60 L264.50,110.57 L264.75,118.40 L265.00,125.41 L265.25,131.01 L265.50,136.24 L265.75,141.43 L266.00,146.14 L266.25,149.92 L266.50,152.35 L266.75,152.97 L267.00,152.16 L267.25,150.42 L267.50,148.08 L267.75,145.45 L268.00,142.85 L268.25,140.57 L268.50,138.08 L268.75,135.30 L269.00,132.55 L269.25,130.13 L269.50,128.35 L269.75,127.51 L270.00,127.14 L270.25,126.89 L270.50,126.72 L270.75,126.57 L271.00,126.40 L271.25,126.16 L271.50,125.79 L271.75,124.98 L272.00,122.77 L272.25,119.42 L272.50,115.33 L272.75,110.89 L273.00,105.61 L273.25,98.40 L273.50,90.33 L273.75,82.49 L274.00,76.00 L274.25,70.21 L274.50,64.32 L274.75,59.21 L275.00,55.77 L275.25,54.86 L275.50,56.71 L275.75,60.57 L276.00,65.61 L276.25,71.03 L276.50,76.00 L276.75,80.72 L277.00,85.81 L277.25,91.07 L277.50,96.31 L277.75,101.35 L278.00,106.00 L278.25,110.48 L278.50,115.02 L278.75,119.49 L279.00,123.73 L279.25,127.58 L279.50,130.91 L279.75,133.56 L280.00,135.68 L280.25,137.73 L280.50,139.65 L280.75,141.31 L281.00,142.62 L281.25,143.49 L281.50,143.80 L281.75,143.13 L282.00,141.31 L282.25,138.62 L282.50,135.31 L282.75,131.68 L283.00,128.00 L283.25,123.69 L283.50,118.26 L283.75,112.15 L284.00,105.76 L284.25,99.51 L284.50,93.67 L284.75,87.51 L285.00,81.57 L285.25,76.75 L285.50,73.09 L285.75,69.95 L286.00,68.60 L286.25,69.68 L286.50,72.48 L286.75,76.36 L287.00,80.67 L287.25,84.81 L287.50,89.37 L287.75,94.61 L288.00,100.26 L288.25,106.07 L288.50,111.77 L288.75,117.09 L289.00,121.86 L289.25,126.62 L289.50,131.40 L289.75,136.05 L290.00,140.44 L290.25,144.42 L290.50,147.84 L290.75,150.55 L291.00,152.71 L291.25,154.81 L291.50,156.81 L291.75,158.65 L292.00,160.28 L292.25,161.65 L292.50,162.70 L292.75,163.36 L293.00,163.60 L293.25,163.39 L293.50,162.86 L293.75,162.11 L294.00,161.26 L294.25,160.43 L294.50,159.71 L294.75,158.86 L295.00,157.94 L295.25,157.12 L295.50,156.56 L295.75,156.42 L296.00,157.02 L296.25,158.27 L296.50,159.87 L296.75,161.54 L297.00,163.00 L297.25,164.31 L297.50,165.68 L297.75,167.05 L298.00,168.37 L298.25,169.59 L298.50,170.64 L298.75,171.51 L299.00,172.32 L299.25,173.08 L299.50,173.77 L299.75,174.37 L300.00,174.88 L300.25,175.27 L300.50,175.61 L300.75,175.93 L301.00,176.22 L301.25,176.49 L301.50,176.74 L301.75,176.96 L302.00,177.17 L302.25,177.36 L302.50,177.52 L302.75,177.67 L303.00,177.80 L303.25,177.92 L303.50,178.03 L303.75,178.14 L304.00,178.25 L304.25,178.34 L304.50,178.44 L304.75,178.53 L305.00,178.61 L305.25,178.70 L305.50,178.77 L305.75,178.85 L306.00,178.92 L306.25,178.98 L306.50,179.05 L306.75,179.11 L307.00,179.16 L307.25,179.22 L307.50,179.27 L307.75,179.32 L308.00,179.36 L308.25,179.41 L308.50,179.45 L308.75,179.50 L309.00,179.54 L309.25,179.58 L309.50,179.62 L309.75,179.67 L310.00,179.71 L310.25,179.75 L310.50,179.78 L310.75,179.82 L311.00,179.86 L311.25,179.89 L311.50,179.92 L311.75,179.95 L312.00,179.98 L312.25,180.00 L312.50,180.03 L312.75,180.05 L313.00,180.06 L313.25,180.08 L313.50,180.09 L313.75,180.10 L314.00,180.10 L314.25,180.10 L314.50,180.11 L314.75,180.11 L315.00,180.11 L315.25,180.11 L315.50,180.11 L315.75,180.12 L316.00,180.12 L316.25,180.12 L316.50,180.12 L316.75,180.13 L317.00,180.13 L317.25,180.13 L317.50,180.13 L317.75,180.13 L318.00,180.14 L318.25,180.14 L318.50,180.14 L318.75,180.14 L319.00,180.14 L319.25,180.15 L319.50,180.15 L319.75,180.15 L320.00,180.15 L320.25,180.15 L320.50,180.15 L320.75,180.16 L321.00,180.16 L321.25,180.16 L321.50,180.16 L321.75,180.16 L322.00,180.16 L322.25,180.16 L322.50,180.17 L322.75,180.17 L323.00,180.17 L323.25,180.17 L323.50,180.17 L323.75,180.17 L324.00,180.17 L324.25,180.17 L324.50,180.18 L324.75,180.18 L325.00,180.18 L325.25,180.18 L325.50,180.18 L325.75,180.18 L326.00,180.18 L326.25,180.18 L326.50,180.18 L326.75,180.18 L327.00,180.19 L327.25,180.19 L327.50,180.19 L327.75,180.19 L328.00,180.19 L328.25,180.19 L328.50,180.19 L328.75,180.19 L329.00,180.19 L329.25,180.19 L329.50,180.19 L329.75,180.19 L330.00,180.19 L330.25,180.19 L330.50,180.19 L330.75,180.19 L331.00,180.20 L331.25,180.20 L331.50,180.20 L331.75,180.20 L332.00,180.20 L332.25,180.20 L332.50,180.20 L332.75,180.20 L333.00,180.20 L333.25,180.20 L333.50,180.20 L333.75,180.20 L334.00,180.20 L334.25,180.20 L334.50,180.20 L334.75,180.20 L335.00,180.20 L335.25,180.20 L335.50,180.20 L335.75,180.20 L336.00,180.20 L336.25,180.20 L336.50,180.20 L336.75,180.20" fill="none" stroke="#111" stroke-width="1.3" stroke-linejoin="round"/>
<path d="M348.00,178.50 L348.25,178.50 L348.50,178.50 L348.75,178.50 L349.00,178.50 L349.25,178.50 L349.50,178.50 L349.75,178.50 L350.00,178.50 L350.25,178.50 L350.50,178.50 L350.75,178.50 L351.00,178.50 L351.25,178.50 L351.50,178.50 L351.75,178.50 L352.00,178.50 L352.25,178.50 L352.50,178.50 L352.75,178.50 L353.00,178.50 L353.25,178.50 L353.50,178.50 L353.75,178.50 L354.00,178.50 L354.25,178.50 L354.50,178.50 L354.75,178.50 L355.00,178.50 L355.25,178.50 L355.50,178.50 L355.75,178.50 L356.00,178.50 L356.25,178.50 L356.50,178.50 L356.75,178.50 L357.00,178.50 L357.25,178.50 L357.50,178.50 L357.75,178.50 L358.00,178.50 L358.25,178.50 L358.50,178.50 L358.75,178.50 L359.00,178.50 L359.25,178.50 L359.50,178.50 L359.75,178.50 L360.00,178.50 L360.25,178.50 L360.50,178.50 L360.75,178.50 L361.00,178.50 L361.25,178.50 L361.50,178.50 L361.75,178.50 L362.00,178.50 L362.25,178.50 L362.50,178.50 L362.75,178.50 L363.00,178.50 L363.25,178.50 L363.50,178.50 L363.75,178.50 L364.00,178.50 L364.25,178.50 L364.50,178.50 L364.75,178.50 L365.00,178.50 L365.25,178.50 L365.50,178.50 L365.75,178.50 L366.00,178.50 L366.25,178.50 L366.50,178.50 L366.75,178.50 L367.00,178.50 L367.25,178.50 L367.50,178.50 L367.75,178.50 L368.00,178.50 L368.25,178.50 L368.50,178.50 L368.75,178.50 L369.00,178.50 L369.25,178.50 L369.50,178.50 L369.75,178.50 L370.00,178.50 L370.25,178.50 L370.50,178.50 L370.75,178.50 L371.00,178.50 L371.25,178.50 L371.50,178.50 L371.75,178.50 L372.00,178.50 L372.25,178.50 L372.50,178.50 L372.75,178.50 L373.00,178.50 L373.25,178.50 L373.50,178.50 L373.75,178.50 L374.00,178.50 L374.25,178.50 L374.50,178.50 L374.75,178.50 L375.00,178.50 L375.25,178.50 L375.50,178.50 L375.75,178.50 L376.00,178.50 L376.25,178.50 L376.50,178.50 L376.75,178.50 L377.00,178.50 L377.25,178.50 L377.50,178.50 L377.75,178.50 L378.00,178.50 L378.25,178.50 L378.50,178.50 L378.75,178.50 L379.00,178.50 L379.25,178.50 L379.50,178.50 L379.75,178.50 L380.00,178.50 L380.25,178.50 L380.50,178.50 L380.75,178.50 L381.00,178.50 L381.25,178.50 L381.50,178.50 L381.75,178.50 L382.00,178.50 L382.25,178.50 L382.50,178.50 L382.75,178.50 L383.00,178.50 L383.25,178.50 L383.50,178.50 L383.75,178.50 L384.00,178.50 L384.25,178.50 L384.50,178.50 L384.75,178.50 L385.00,178.50 L385.25,178.50 L385.50,178.50 L385.75,178.50 L386.00,178.50 L386.25,178.50 L386.50,178.50 L386.75,178.50 L387.00,178.50 L387.25,178.50 L387.50,178.50 L387.75,178.50 L388.00,178.50 L388.25,178.50 L388.50,178.50 L388.75,178.50 L389.00,178.50 L389.25,178.50 L389.50,178.50 L389.75,178.50 L390.00,178.50 L390.25,178.50 L390.50,178.50 L390.75,178.50 L391.00,178.50 L391.25,178.50 L391.50,178.50 L391.75,178.50 L392.00,178.50 L392.25,178.50 L392.50,178.50 L392.75,178.50 L393.00,178.50 L393.25,178.50 L393.50,178.50 L393.75,178.50 L394.00,178.50 L394.25,178.50 L394.50,178.50 L394.75,178.50 L395.00,178.50 L395.25,178.50 L395.50,178.49 L395.75,178.47 L396.00,178.45 L396.25,178.43 L396.50,178.40 L396.75,178.37 L397.00,178.33 L397.25,178.28 L397.50,178.23 L397.75,178.18 L398.00,178.12 L398.25,178.06 L398.50,178.00 L398.75,177.92 L399.00,177.80 L399.25,177.65 L399.50,177.45 L399.75,177.21 L400.00,176.92 L400.25,176.57 L400.50,176.18 L400.75,175.55 L401.00,174.09 L401.25,171.90 L401.50,169.14 L401.75,166.01 L402.00,162.68 L402.25,159.31 L402.50,155.10 L402.75,150.04 L403.00,144.66 L403.25,139.47 L403.50,135.00 L403.75,130.70 L404.00,126.26 L404.25,122.55 L404.50,120.41 L404.75,120.61 L405.00,122.79 L405.25,126.26 L405.50,130.32 L405.75,134.28 L406.00,138.08 L406.25,142.50 L406.50,147.15 L406.75,151.64 L407.00,155.56 L407.25,158.51 L407.50,160.97 L407.75,163.23 L408.00,165.21 L408.25,166.86 L408.50,168.12 L408.75,169.01 L409.00,169.82 L409.25,170.55 L409.50,171.17 L409.75,171.64 L410.00,171.92 L410.25,172.00 L410.50,171.98 L410.75,171.93 L411.00,171.85 L411.25,171.74 L411.50,171.62 L411.75,171.47 L412.00,171.30 L412.25,171.12 L412.50,170.91 L412.75,170.57 L413.00,170.08 L413.25,169.46 L413.50,168.70 L413.75,167.83 L414.00,166.85 L414.25,165.77 L414.50,164.44 L414.75,162.66 L415.00,160.31 L415.25,157.24 L415.50,152.79 L415.75,142.96 L416.00,129.43 L416.25,114.93 L416.50,93.90 L416.75,72.31 L417.00,62.40 L417.25,68.79 L417.50,83.02 L417.75,97.67 L418.00,108.91 L418.25,120.15 L418.50,130.44 L418.75,138.69 L419.00,144.80 L419.25,150.17 L419.50,154.54 L419.75,157.58 L420.00,159.51 L420.25,161.20 L420.50,162.56 L420.75,163.47 L421.00,163.80 L421.25,163.14 L421.50,161.40 L421.75,158.95 L422.00,156.18 L422.25,153.46 L422.50,151.03 L422.75,148.13 L423.00,144.91 L423.25,141.81 L423.50,139.25 L423.75,137.69 L424.00,137.54 L424.25,138.89 L424.50,141.17 L424.75,143.75 L425.00,146.00 L425.25,148.20 L425.50,150.53 L425.75,152.17 L426.00,152.17 L426.25,148.93 L426.50,143.48 L426.75,137.32 L427.00,132.00 L427.25,127.00 L427.50,121.48 L427.75,116.47 L428.00,112.99 L428.25,112.08 L428.50,114.39 L428.75,118.89 L429.00,124.17 L429.25,128.87 L429.50,133.60 L429.75,138.54 L430.00,143.08 L430.25,146.62 L430.50,149.59 L430.75,152.16 L431.00,154.08 L431.25,155.23 L431.50,156.12 L431.75,156.85 L432.00,157.47 L432.25,158.02 L432.50,158.53 L432.75,159.06 L433.00,159.64 L433.25,160.27 L433.50,160.93 L433.75,161.62 L434.00,162.30 L434.25,162.99 L434.50,163.65 L434.75,164.28 L435.00,164.86 L435.25,165.38 L435.50,165.82 L435.75,166.18 L436.00,166.43 L436.25,166.58 L436.50,166.58 L436.75,166.38 L437.00,165.99 L437.25,165.46 L437.50,164.83 L437.75,164.17 L438.00,163.50 L438.25,162.59 L438.50,161.36 L438.75,160.08 L439.00,159.04 L439.25,158.52 L439.50,158.73 L439.75,159.55 L440.00,160.76 L440.25,162.16 L440.50,163.51 L440.75,164.75 L441.00,166.21 L441.25,167.79 L441.50,169.33 L441.75,170.69 L442.00,171.72 L442.25,172.27 L442.50,172.62 L442.75,172.93 L443.00,173.20 L443.25,173.45 L443.50,173.66 L443.75,173.86 L444.00,174.03 L444.25,174.18 L444.50,174.32 L444.75,174.45 L445.00,174.57 L445.25,174.69 L445.50,174.80 L445.75,174.91 L446.00,175.00 L446.25,175.08 L446.50,175.16 L446.75,175.23 L447.00,175.29 L447.25,175.36 L447.50,175.42 L447.75,175.50 L448.00,175.57 L448.25,175.66 L448.50,175.76 L448.75,175.87 L449.00,176.01 L449.25,176.17 L449.50,176.34 L449.75,176.53 L450.00,176.72 L450.25,176.90 L450.50,177.08 L450.75,177.25 L451.00,177.40 L451.25,177.54 L451.50,177.70 L451.75,177.85 L452.00,178.00 L452.25,178.14 L452.50,178.28 L452.75,178.39 L453.00,178.49 L453.25,178.56 L453.50,178.60 L453.75,178.62 L454.00,178.65 L454.25,178.67 L454.50,178.69 L454.75,178.71 L455.00,178.72 L455.25,178.74 L455.50,178.76 L455.75,178.77 L456.00,178.78 L456.25,178.80 L456.50,178.81 L456.75,178.82 L457.00,178.83 L457.25,178.84 L457.50,178.85 L457.75,178.86 L458.00,178.87 L458.25,178.87 L458.50,178.88 L458.75,178.88 L459.00,178.89 L459.25,178.89 L459.50,178.89 L459.75,178.90 L460.00,178.90 L460.25,178.90 L460.50,178.90 L460.75,178.91 L461.00,178.91 L461.25,178.91 L461.50,178.91 L461.75,178.91 L462.00,178.92 L462.25,178.92 L462.50,178.92 L462.75,178.92 L463.00,178.92 L463.25,178.92 L463.50,178.93 L463.75,178.93 L464.00,178.93 L464.25,178.93 L464.50,178.93 L464.75,178.93 L465.00,178.94 L465.25,178.94 L465.50,178.94 L465.75,178.94 L466.00,178.94 L466.25,178.94 L466.50,178.95 L466.75,178.95 L467.00,178.95 L467.25,178.95 L467.50,178.95 L467.75,178.95 L468.00,178.95 L468.25,178.95 L468.50,178.96 L468.75,178.96 L469.00,178.96 L469.25,178.96 L469.50,178.96 L469.75,178.96 L470.00,178.96 L470.25,178.96 L470.50,178.97 L470.75,178.97 L471.00,178.97 L471.25,178.97 L471.50,178.97 L471.75,178.97 L472.00,178.97 L472.25,178.97 L472.50,178.97 L472.75,178.97 L473.00,178.98 L473.25,178.98 L473.50,178.98 L473.75,178.98 L474.00,178.98 L474.25,178.98 L474.50,178.98 L474.75,178.98 L475.00,178.98 L475.25,178.98 L475.50,178.98 L475.75,178.98 L476.00,178.98 L476.25,178.99 L476.50,178.99 L476.75,178.99 L477.00,178.99 L477.25,178.99 L477.50,178.99 L477.75,178.99 L478.00,178.99 L478.25,178.99 L478.50,178.99 L478.75,178.99 L479.00,178.99 L479.25,178.99 L479.50,178.99 L479.75,178.99 L480.00,178.99 L480.25,178.99 L480.50,178.99 L480.75,179.00 L481.00,179.00 L481.25,179.00 L481.50,179.00 L481.75,179.00 L482.00,179.00 L482.25,179.00 L482.50,179.00 L482.75,179.00 L483.00,179.00 L483.25,179.00 L483.50,179.00 L483.75,179.00 L484.00,179.00 L484.25,179.00 L484.50,179.00 L484.75,179.00 L485.00,179.00 L485.25,179.00 L485.50,179.00 L485.75,179.00 L486.00,179.00 L486.25,179.00 L486.50,179.00 L486.75,179.00 L487.00,179.00 L487.25,179.00 L487.50,179.00" fill="none" stroke="#111" stroke-width="1.3" stroke-linejoin="round"/>
<text transform="translate(91.27,90.5) scale(0.8403,1)" font-size="15.0" font-weight="normal" font-style="normal" stroke="#000" stroke-width="0.9">2C</text>
<text transform="translate(105.65,117.1) scale(0.8197,1)" font-size="15.0" font-weight="normal" font-style="normal" stroke="#000" stroke-width="0.9">4C</text>
<text transform="translate(113.14,139.70000000000002) scale(0.8368,1)" font-size="15.0" font-weight="normal" font-style="normal" stroke="#000" stroke-width="0.9">8C</text>
<text transform="translate(126.06,61.3) scale(0.8372,1)" font-size="15.0" font-weight="normal" font-style="normal" stroke="#000" stroke-width="0.9">16C</text>
<text transform="translate(142.51,131.9) scale(0.8205,1)" font-size="15.0" font-weight="normal" font-style="normal" stroke="#000" stroke-width="0.9">32C</text>
<text transform="translate(240.07,71.7) scale(0.8403,1)" font-size="15.0" font-weight="normal" font-style="normal" stroke="#000" stroke-width="0.9">2C</text>
<text transform="translate(252.55,57.9) scale(0.8197,1)" font-size="15.0" font-weight="normal" font-style="normal" stroke="#000" stroke-width="0.9">4C</text>
<text transform="translate(263.74,47.4) scale(0.8368,1)" font-size="15.0" font-weight="normal" font-style="normal" stroke="#000" stroke-width="0.9">8C</text>
<text transform="translate(279.26,65.3) scale(0.8372,1)" font-size="15.0" font-weight="normal" font-style="normal" stroke="#000" stroke-width="0.9">16C</text>
<text transform="translate(292.31,146.3) scale(0.8205,1)" font-size="15.0" font-weight="normal" font-style="normal" stroke="#000" stroke-width="0.9">32C</text>
<text transform="translate(392.67,111.89999999999999) scale(0.8403,1)" font-size="15.0" font-weight="normal" font-style="normal" stroke="#000" stroke-width="0.9">2C</text>
<text transform="translate(407.75,57.3) scale(0.8197,1)" font-size="15.0" font-weight="normal" font-style="normal" stroke="#000" stroke-width="0.9">4C</text>
<text transform="translate(420.54,87.6) scale(0.8368,1)" font-size="15.0" font-weight="normal" font-style="normal" stroke="#000" stroke-width="0.9">8C</text>
<text transform="translate(432.66,137.70000000000002) scale(0.8372,1)" font-size="15.0" font-weight="normal" font-style="normal" stroke="#000" stroke-width="0.9">16C</text>
<text transform="translate(445.11,165.3) scale(0.8205,1)" font-size="15.0" font-weight="normal" font-style="normal" stroke="#000" stroke-width="0.9">32C</text>
<text transform="translate(86.32,19.9) scale(0.9461,1)" font-size="13.4" font-weight="normal" font-style="italic" stroke="#000" stroke-width="0.7">Plk1</text>
<text transform="translate(110.96,19.9) scale(0.9251,1)" font-size="13.4" font-weight="normal" font-style="normal" stroke="#000" stroke-width="0.7">(lox/lox)</text>
<text transform="translate(235.62,20.1) scale(0.9379,1)" font-size="13.4" font-weight="normal" font-style="italic" stroke="#000" stroke-width="0.7">Plk1</text>
<text transform="translate(259.78,20.1) scale(1.0250,1)" font-size="13.4" font-weight="normal" font-style="normal" stroke="#000" stroke-width="0.7">(&#916;/&#916;)</text>
<text transform="translate(385.02,20.1) scale(0.9282,1)" font-size="13.4" font-weight="normal" font-style="italic" stroke="#000" stroke-width="0.7">Cdc20</text>
<text transform="translate(421.29,20.1) scale(1.0077,1)" font-size="13.4" font-weight="normal" font-style="normal" stroke="#000" stroke-width="0.7">(&#916;/&#916;)</text>
<line x1="33.1" y1="34.5" x2="33.1" y2="175" stroke="#000" stroke-width="1.9"/>
<path d="M27.5,43.2 L33.1,34.0 L38.7,43.2" fill="none" stroke="#000" stroke-width="1.9" stroke-linejoin="miter"/>
<g transform="translate(18.9,0) rotate(-90)">
<text transform="translate(-166.14,0) scale(0.7949,1)" font-size="16.2" font-weight="normal" font-style="normal" stroke="#000" stroke-width="0.9">CD41<tspan font-size="9.5" dy="-5.5">+</tspan><tspan dy="5.5">cells (Counts)</tspan></text>
</g>
<line x1="44.5" y1="191.15" x2="468.5" y2="191.15" stroke="#000" stroke-width="2.0"/>
<path d="M459.8,186.0 L469.2,191.15 L459.8,196.7" fill="none" stroke="#000" stroke-width="1.9" stroke-linejoin="miter"/>
<text transform="translate(210.70,208.8) scale(0.8548,1)" font-size="14.6" font-weight="normal" font-style="normal" stroke="#000" stroke-width="0.9">DNA content (DAPI)</text>
</g>
<g id="panelB">
<text transform="translate(-1.54,244.6) scale(0.9710,1)" font-size="26" font-weight="bold" font-style="normal" stroke="#000" stroke-width="1.0">B</text>
<line x1="45.2" y1="240.7" x2="45.2" y2="413.6" stroke="#000" stroke-width="1.9"/>
<line x1="44.300000000000004" y1="412.90000000000003" x2="281.5" y2="412.90000000000003" stroke="#222" stroke-width="1.4"/>
<line x1="38.2" y1="412.80" x2="44.300000000000004" y2="412.80" stroke="#7a7a7a" stroke-width="1.2"/>
<text transform="translate(28.78,414.8) scale(0.8727,1)" font-size="14.8" font-weight="normal" font-style="normal" stroke="#000" stroke-width="0.9">0</text>
<line x1="38.2" y1="370.30" x2="44.300000000000004" y2="370.30" stroke="#7a7a7a" stroke-width="1.2"/>
<text transform="translate(21.63,373.9) scale(0.8716,1)" font-size="14.8" font-weight="normal" font-style="normal" stroke="#000" stroke-width="0.9">10</text>
<line x1="38.2" y1="327.80" x2="44.300000000000004" y2="327.80" stroke="#7a7a7a" stroke-width="1.2"/>
<text transform="translate(21.97,331.2) scale(0.8504,1)" font-size="14.8" font-weight="normal" font-style="normal" stroke="#000" stroke-width="0.9">20</text>
<line x1="38.2" y1="285.30" x2="44.300000000000004" y2="285.30" stroke="#7a7a7a" stroke-width="1.2"/>
<text transform="translate(22.10,289.2) scale(0.8421,1)" font-size="14.8" font-weight="normal" font-style="normal" stroke="#000" stroke-width="0.9">30</text>
<line x1="38.2" y1="242.80" x2="44.300000000000004" y2="242.80" stroke="#7a7a7a" stroke-width="1.2"/>
<text transform="translate(22.36,247.2) scale(0.8262,1)" font-size="14.8" font-weight="normal" font-style="normal" stroke="#000" stroke-width="0.9">40</text>
<g transform="translate(13.1,0) rotate(-90)">
<text transform="translate(-371.52,0) scale(0.7782,1)" font-size="16.0" font-weight="normal" font-style="normal" stroke="#000" stroke-width="0.9">CD41+ cells (%)</text>
</g>
<line x1="56.45" y1="285.80" x2="56.45" y2="298.50" stroke="#000" stroke-width="1.7"/>
<line x1="51.20" y1="285.80" x2="62.10" y2="285.80" stroke="#000" stroke-width="1.6"/>
<rect x="51.75" y="298.50" width="9.40" height="114.30" fill="#ffffff" stroke="#000" stroke-width="1.7"/>
<line x1="70.25" y1="282.90" x2="70.25" y2="297.10" stroke="#000" stroke-width="1.7"/>
<line x1="64.90" y1="282.90" x2="76.00" y2="282.90" stroke="#000" stroke-width="1.6"/>
<rect x="65.45" y="297.10" width="9.60" height="115.70" fill="#d8d8d8" stroke="#000" stroke-width="1.7"/>
<line x1="83.75" y1="333.10" x2="83.75" y2="336.20" stroke="#000" stroke-width="1.7"/>
<line x1="78.40" y1="333.10" x2="89.50" y2="333.10" stroke="#000" stroke-width="1.6"/>
<rect x="78.95" y="336.20" width="9.60" height="76.60" fill="#7d7d7d" stroke="#000" stroke-width="1.7"/>
<line x1="104.05" y1="371.60" x2="104.05" y2="372.20" stroke="#000" stroke-width="1.7"/>
<line x1="98.80" y1="371.60" x2="109.70" y2="371.60" stroke="#000" stroke-width="1.6"/>
<rect x="99.35" y="372.20" width="9.40" height="40.60" fill="#ffffff" stroke="#000" stroke-width="1.7"/>
<line x1="117.65" y1="320.90" x2="117.65" y2="337.20" stroke="#000" stroke-width="1.7"/>
<line x1="112.30" y1="320.90" x2="123.40" y2="320.90" stroke="#000" stroke-width="1.6"/>
<rect x="112.85" y="337.20" width="9.60" height="75.60" fill="#d8d8d8" stroke="#000" stroke-width="1.7"/>
<line x1="131.30" y1="271.00" x2="131.30" y2="279.00" stroke="#000" stroke-width="1.7"/>
<line x1="125.90" y1="271.00" x2="137.10" y2="271.00" stroke="#000" stroke-width="1.6"/>
<rect x="126.45" y="279.00" width="9.70" height="133.80" fill="#7d7d7d" stroke="#000" stroke-width="1.7"/>
<line x1="152.20" y1="341.60" x2="152.20" y2="353.30" stroke="#000" stroke-width="1.7"/>
<line x1="146.80" y1="341.60" x2="158.00" y2="341.60" stroke="#000" stroke-width="1.6"/>
<rect x="147.35" y="353.30" width="9.70" height="59.50" fill="#ffffff" stroke="#000" stroke-width="1.7"/>
<line x1="165.15" y1="289.90" x2="165.15" y2="306.30" stroke="#000" stroke-width="1.7"/>
<line x1="159.80" y1="289.90" x2="170.90" y2="289.90" stroke="#000" stroke-width="1.6"/>
<rect x="160.35" y="306.30" width="9.60" height="106.50" fill="#d8d8d8" stroke="#000" stroke-width="1.7"/>
<line x1="178.70" y1="298.00" x2="178.70" y2="308.50" stroke="#000" stroke-width="1.7"/>
<line x1="173.40" y1="298.00" x2="184.40" y2="298.00" stroke="#000" stroke-width="1.6"/>
<rect x="173.95" y="308.50" width="9.50" height="104.30" fill="#7d7d7d" stroke="#000" stroke-width="1.7"/>
<line x1="200.10" y1="248.80" x2="200.10" y2="253.70" stroke="#000" stroke-width="1.7"/>
<line x1="194.70" y1="248.80" x2="205.90" y2="248.80" stroke="#000" stroke-width="1.6"/>
<rect x="195.25" y="253.70" width="9.70" height="159.10" fill="#ffffff" stroke="#000" stroke-width="1.7"/>
<line x1="213.15" y1="313.10" x2="213.15" y2="327.60" stroke="#000" stroke-width="1.7"/>
<line x1="207.80" y1="313.10" x2="218.90" y2="313.10" stroke="#000" stroke-width="1.6"/>
<rect x="208.35" y="327.60" width="9.60" height="85.20" fill="#d8d8d8" stroke="#000" stroke-width="1.7"/>
<line x1="226.85" y1="328.60" x2="226.85" y2="335.30" stroke="#000" stroke-width="1.7"/>
<line x1="221.40" y1="328.60" x2="232.70" y2="328.60" stroke="#000" stroke-width="1.6"/>
<rect x="221.95" y="335.30" width="9.80" height="77.50" fill="#7d7d7d" stroke="#000" stroke-width="1.7"/>
<line x1="247.85" y1="360.00" x2="247.85" y2="367.10" stroke="#000" stroke-width="1.7"/>
<line x1="242.20" y1="360.00" x2="253.90" y2="360.00" stroke="#000" stroke-width="1.6"/>
<rect x="242.75" y="367.10" width="10.20" height="45.70" fill="#ffffff" stroke="#000" stroke-width="1.7"/>
<line x1="261.15" y1="374.90" x2="261.15" y2="382.70" stroke="#000" stroke-width="1.7"/>
<line x1="255.40" y1="374.90" x2="267.30" y2="374.90" stroke="#000" stroke-width="1.6"/>
<rect x="255.95" y="382.70" width="10.40" height="30.10" fill="#d8d8d8" stroke="#000" stroke-width="1.7"/>
<line x1="274.00" y1="387.10" x2="274.00" y2="393.90" stroke="#000" stroke-width="1.7"/>
<line x1="268.30" y1="387.10" x2="280.10" y2="387.10" stroke="#000" stroke-width="1.6"/>
<rect x="268.85" y="393.90" width="10.30" height="18.90" fill="#7d7d7d" stroke="#000" stroke-width="1.7"/>
<text transform="translate(79.13,327.77299999999997) scale(0.9251,1)" font-size="14.6" font-weight="bold" font-style="normal" stroke="#000" stroke-width="0.3">**</text>
<text transform="translate(112.23,318.373) scale(0.9251,1)" font-size="14.6" font-weight="bold" font-style="normal" stroke="#000" stroke-width="0.3">**</text>
<text transform="translate(123.23,265.473) scale(0.9447,1)" font-size="14.6" font-weight="bold" font-style="normal" stroke="#000" stroke-width="0.3">***</text>
<text transform="translate(160.63,272.473) scale(0.9251,1)" font-size="14.6" font-weight="bold" font-style="normal" stroke="#000" stroke-width="0.3">**</text>
<text transform="translate(172.63,287.77299999999997) scale(0.9251,1)" font-size="14.6" font-weight="bold" font-style="normal" stroke="#000" stroke-width="0.3">**</text>
<text transform="translate(208.63,296.77299999999997) scale(0.9251,1)" font-size="14.6" font-weight="bold" font-style="normal" stroke="#000" stroke-width="0.3">**</text>
<text transform="translate(220.43,312.573) scale(0.9447,1)" font-size="14.6" font-weight="bold" font-style="normal" stroke="#000" stroke-width="0.3">***</text>
<text transform="translate(258.73,358.973) scale(0.9012,1)" font-size="14.6" font-weight="bold" font-style="normal" stroke="#000" stroke-width="0.3">*</text>
<text transform="translate(269.03,363.373) scale(0.9251,1)" font-size="14.6" font-weight="bold" font-style="normal" stroke="#000" stroke-width="0.3">**</text>
<line x1="49.30" y1="420.0" x2="90.30" y2="420.0" stroke="#000" stroke-width="1.7"/>
<line x1="69.80" y1="412.8" x2="69.80" y2="420.0" stroke="#666" stroke-width="1.0"/>
<text transform="translate(59.16,436.5) scale(0.9189,1)" font-size="13.9" font-weight="normal" font-style="normal" stroke="#000" stroke-width="0.9">2C</text>
<line x1="96.80" y1="420.0" x2="135.70" y2="420.0" stroke="#000" stroke-width="1.7"/>
<line x1="116.25" y1="412.8" x2="116.25" y2="420.0" stroke="#666" stroke-width="1.0"/>
<text transform="translate(106.26,436.5) scale(0.8786,1)" font-size="13.9" font-weight="normal" font-style="normal" stroke="#000" stroke-width="0.9">4C</text>
<line x1="144.80" y1="420.0" x2="185.60" y2="420.0" stroke="#000" stroke-width="1.7"/>
<line x1="165.20" y1="412.8" x2="165.20" y2="420.0" stroke="#666" stroke-width="1.0"/>
<text transform="translate(154.75,436.5) scale(0.8850,1)" font-size="13.9" font-weight="normal" font-style="normal" stroke="#000" stroke-width="0.9">8C</text>
<line x1="193.40" y1="420.0" x2="233.60" y2="420.0" stroke="#000" stroke-width="1.7"/>
<line x1="213.50" y1="412.8" x2="213.50" y2="420.0" stroke="#666" stroke-width="1.0"/>
<text transform="translate(199.92,436.5) scale(0.9369,1)" font-size="13.9" font-weight="normal" font-style="normal" stroke="#000" stroke-width="0.9">16C</text>
<line x1="241.60" y1="420.0" x2="282.00" y2="420.0" stroke="#000" stroke-width="1.7"/>
<line x1="261.80" y1="412.8" x2="261.80" y2="420.0" stroke="#666" stroke-width="1.0"/>
<text transform="translate(245.22,436.5) scale(0.9230,1)" font-size="13.9" font-weight="normal" font-style="normal" stroke="#000" stroke-width="0.9">&#8805;32C</text>
<rect x="13.799999999999999" y="454.2" width="15.1" height="5.8" fill="#ffffff" stroke="#000" stroke-width="1.4"/>
<rect x="116.10000000000001" y="454.2" width="15.1" height="5.8" fill="#d8d8d8" stroke="#000" stroke-width="1.4"/>
<rect x="201.6" y="454.2" width="15.1" height="5.8" fill="#7d7d7d" stroke="#000" stroke-width="1.4"/>
<text transform="translate(34.73,461.8) scale(0.8538,1)" font-size="14.4" font-weight="normal" font-style="italic" stroke="#000" stroke-width="0.9">Plk1</text>
<text transform="translate(58.72,461.8) scale(0.8978,1)" font-size="14.4" font-weight="normal" font-style="normal" stroke="#000" stroke-width="0.9">(lox/lox)</text>
<text transform="translate(137.43,461.8) scale(0.8538,1)" font-size="14.4" font-weight="normal" font-style="italic" stroke="#000" stroke-width="0.9">Plk1</text>
<text transform="translate(161.38,461.8) scale(0.9474,1)" font-size="14.4" font-weight="normal" font-style="normal" stroke="#000" stroke-width="0.9">(&#916;/&#916;)</text>
<text transform="translate(223.42,461.8) scale(0.8589,1)" font-size="14.4" font-weight="normal" font-style="italic" stroke="#000" stroke-width="0.9">Cdc20</text>
<text transform="translate(259.50,461.8) scale(0.9216,1)" font-size="14.4" font-weight="normal" font-style="normal" stroke="#000" stroke-width="0.9">(&#916;/&#916;)</text>
</g>
<g id="panelC">
<text transform="translate(284.62,244.8) scale(0.9454,1)" font-size="26" font-weight="bold" font-style="normal" stroke="#000" stroke-width="1.0">C</text>
<line x1="355.5" y1="239.2" x2="355.5" y2="412.3" stroke="#000" stroke-width="1.9"/>
<line x1="354.6" y1="411.5" x2="520" y2="411.5" stroke="#111" stroke-width="1.5"/>
<line x1="349.0" y1="411.50" x2="354.6" y2="411.50" stroke="#7a7a7a" stroke-width="1.2"/>
<text transform="translate(339.68,416.0) scale(0.8727,1)" font-size="14.8" font-weight="normal" font-style="normal" stroke="#000" stroke-width="0.9">0</text>
<line x1="349.0" y1="369.05" x2="354.6" y2="369.05" stroke="#7a7a7a" stroke-width="1.2"/>
<text transform="translate(325.49,373.55) scale(0.8669,1)" font-size="14.8" font-weight="normal" font-style="normal" stroke="#000" stroke-width="0.9">500</text>
<line x1="349.0" y1="326.60" x2="354.6" y2="326.60" stroke="#7a7a7a" stroke-width="1.2"/>
<text transform="translate(318.44,331.1) scale(0.8626,1)" font-size="14.8" font-weight="normal" font-style="normal" stroke="#000" stroke-width="0.9">1000</text>
<line x1="349.0" y1="284.15" x2="354.6" y2="284.15" stroke="#7a7a7a" stroke-width="1.2"/>
<text transform="translate(318.44,288.65) scale(0.8626,1)" font-size="14.8" font-weight="normal" font-style="normal" stroke="#000" stroke-width="0.9">1500</text>
<line x1="349.0" y1="241.70" x2="354.6" y2="241.70" stroke="#7a7a7a" stroke-width="1.2"/>
<text transform="translate(318.77,246.2) scale(0.8525,1)" font-size="14.8" font-weight="normal" font-style="normal" stroke="#000" stroke-width="0.9">2000</text>
<line x1="388.3" y1="411.5" x2="388.3" y2="416.7" stroke="#222" stroke-width="1.25"/>
<line x1="436.9" y1="411.5" x2="436.9" y2="416.7" stroke="#222" stroke-width="1.25"/>
<line x1="486.6" y1="411.5" x2="486.6" y2="416.7" stroke="#222" stroke-width="1.25"/>
<g transform="translate(311.2,0) rotate(-90)">
<text transform="translate(-391.31,0) scale(0.8745,1)" font-size="14.5" font-weight="normal" font-style="normal" stroke="#000" stroke-width="0.9">Blood Platelets (x10<tspan font-size="9.5" dy="-6.2">9</tspan><tspan dy="6.2">/L)</tspan></text>
</g>
<line x1="384.5" y1="267.7" x2="485.1" y2="267.7" stroke="#000" stroke-width="1.85" stroke-dasharray="5.3,2.95" fill="none"/>
<line x1="385.4" y1="266.8" x2="385.4" y2="290.2" stroke="#000" stroke-width="1.85" stroke-dasharray="5.3,2.95" fill="none"/>
<line x1="385.4" y1="291.4" x2="385.4" y2="292.8" stroke="#000" stroke-width="1.6"/>
<line x1="433.5" y1="266.8" x2="433.5" y2="312.3" stroke="#000" stroke-width="1.85" stroke-dasharray="5.3,2.95" fill="none"/>
<line x1="484.2" y1="266.8" x2="484.2" y2="368.2" stroke="#000" stroke-width="1.85" stroke-dasharray="5.3,2.95" fill="none"/>
<text transform="translate(423.93,261.873) scale(0.9447,1)" font-size="14.6" font-weight="bold" font-style="normal" stroke="#000" stroke-width="0.3">***</text>
<text transform="translate(473.23,262.773) scale(0.9447,1)" font-size="14.6" font-weight="bold" font-style="normal" stroke="#000" stroke-width="0.3">***</text>
<circle cx="386.9" cy="307.9" r="3.65" fill="#f2f2f2" stroke="#505050" stroke-width="1.15"/>
<circle cx="383.1" cy="318.8" r="3.65" fill="#f2f2f2" stroke="#505050" stroke-width="1.15"/>
<circle cx="394.0" cy="320.4" r="3.65" fill="#f2f2f2" stroke="#505050" stroke-width="1.15"/>
<circle cx="397.9" cy="323.1" r="3.65" fill="#f2f2f2" stroke="#505050" stroke-width="1.15"/>
<circle cx="378.8" cy="327.3" r="3.65" fill="#f2f2f2" stroke="#505050" stroke-width="1.15"/>
<circle cx="385.0" cy="327.3" r="3.65" fill="#f2f2f2" stroke="#505050" stroke-width="1.15"/>
<circle cx="391.0" cy="327.8" r="3.65" fill="#f2f2f2" stroke="#505050" stroke-width="1.15"/>
<circle cx="374.8" cy="331.6" r="3.65" fill="#f2f2f2" stroke="#505050" stroke-width="1.15"/>
<circle cx="397.9" cy="334.0" r="3.65" fill="#f2f2f2" stroke="#505050" stroke-width="1.15"/>
<circle cx="382.8" cy="336.5" r="3.65" fill="#f2f2f2" stroke="#505050" stroke-width="1.15"/>
<circle cx="390.6" cy="338.1" r="3.65" fill="#f2f2f2" stroke="#505050" stroke-width="1.15"/>
<circle cx="398.1" cy="343.6" r="3.65" fill="#f2f2f2" stroke="#505050" stroke-width="1.15"/>
<circle cx="375.6" cy="345.2" r="3.65" fill="#f2f2f2" stroke="#505050" stroke-width="1.15"/>
<circle cx="390.6" cy="347.8" r="3.65" fill="#f2f2f2" stroke="#505050" stroke-width="1.15"/>
<circle cx="383.1" cy="350.8" r="3.65" fill="#f2f2f2" stroke="#505050" stroke-width="1.15"/>
<circle cx="434.4" cy="328.4" r="3.65" fill="#dbdbdb" stroke="#4c4c4c" stroke-width="1.15"/>
<circle cx="434.4" cy="341.9" r="3.65" fill="#dbdbdb" stroke="#4c4c4c" stroke-width="1.15"/>
<circle cx="427.3" cy="356.9" r="3.65" fill="#dbdbdb" stroke="#4c4c4c" stroke-width="1.15"/>
<circle cx="434.6" cy="360.3" r="3.65" fill="#dbdbdb" stroke="#4c4c4c" stroke-width="1.15"/>
<circle cx="442.1" cy="358.5" r="3.65" fill="#dbdbdb" stroke="#4c4c4c" stroke-width="1.15"/>
<circle cx="430.9" cy="369.0" r="3.65" fill="#dbdbdb" stroke="#4c4c4c" stroke-width="1.15"/>
<circle cx="437.5" cy="378.8" r="3.65" fill="#dbdbdb" stroke="#4c4c4c" stroke-width="1.15"/>
<circle cx="441.9" cy="376.6" r="3.65" fill="#dbdbdb" stroke="#4c4c4c" stroke-width="1.15"/>
<circle cx="427.8" cy="385.0" r="3.65" fill="#dbdbdb" stroke="#4c4c4c" stroke-width="1.15"/>
<circle cx="423.4" cy="388.8" r="3.65" fill="#dbdbdb" stroke="#4c4c4c" stroke-width="1.15"/>
<circle cx="430.6" cy="391.0" r="3.65" fill="#dbdbdb" stroke="#4c4c4c" stroke-width="1.15"/>
<circle cx="438.1" cy="393.5" r="3.65" fill="#dbdbdb" stroke="#4c4c4c" stroke-width="1.15"/>
<circle cx="445.6" cy="389.4" r="3.65" fill="#dbdbdb" stroke="#4c4c4c" stroke-width="1.15"/>
<circle cx="416.9" cy="397.9" r="3.65" fill="#dbdbdb" stroke="#4c4c4c" stroke-width="1.15"/>
<circle cx="421.3" cy="401.3" r="3.65" fill="#dbdbdb" stroke="#4c4c4c" stroke-width="1.15"/>
<circle cx="428.1" cy="403.8" r="3.65" fill="#dbdbdb" stroke="#4c4c4c" stroke-width="1.15"/>
<circle cx="434.6" cy="404.1" r="3.65" fill="#dbdbdb" stroke="#4c4c4c" stroke-width="1.15"/>
<circle cx="441.3" cy="403.8" r="3.65" fill="#dbdbdb" stroke="#4c4c4c" stroke-width="1.15"/>
<circle cx="447.8" cy="402.5" r="3.65" fill="#dbdbdb" stroke="#4c4c4c" stroke-width="1.15"/>
<circle cx="452.3" cy="399.8" r="3.65" fill="#dbdbdb" stroke="#4c4c4c" stroke-width="1.15"/>
<circle cx="480.0" cy="392.5" r="3.65" fill="#878787" stroke="#484848" stroke-width="1.15"/>
<circle cx="489.6" cy="393.5" r="3.65" fill="#878787" stroke="#484848" stroke-width="1.15"/>
<circle cx="497.5" cy="397.3" r="3.65" fill="#878787" stroke="#484848" stroke-width="1.15"/>
<circle cx="470.6" cy="399.0" r="3.65" fill="#878787" stroke="#484848" stroke-width="1.15"/>
<circle cx="481.9" cy="399.4" r="3.65" fill="#878787" stroke="#484848" stroke-width="1.15"/>
<circle cx="491.3" cy="399.4" r="3.65" fill="#878787" stroke="#484848" stroke-width="1.15"/>
<circle cx="476.3" cy="401.3" r="3.65" fill="#878787" stroke="#484848" stroke-width="1.15"/>
<circle cx="501.3" cy="404.0" r="3.65" fill="#878787" stroke="#484848" stroke-width="1.15"/>
<circle cx="486.9" cy="404.8" r="3.65" fill="#878787" stroke="#484848" stroke-width="1.15"/>
<circle cx="476.9" cy="408.1" r="3.65" fill="#878787" stroke="#484848" stroke-width="1.15"/>
<circle cx="485.4" cy="408.8" r="3.65" fill="#878787" stroke="#484848" stroke-width="1.15"/>
<circle cx="494.1" cy="408.5" r="3.65" fill="#878787" stroke="#484848" stroke-width="1.15"/>
<line x1="364.0" y1="333.4" x2="407.6" y2="333.4" stroke="#000" stroke-width="2.0"/>
<line x1="412.2" y1="382.2" x2="456.6" y2="382.2" stroke="#000" stroke-width="2.0"/>
<line x1="464.0" y1="401.9" x2="507.6" y2="401.9" stroke="#000" stroke-width="2.0"/>
<text transform="translate(364.55,435.2) scale(0.8876,1)" font-size="14.1" font-weight="normal" font-style="normal" stroke="#000" stroke-width="0.9">(lox/lox)</text>
<text transform="translate(420.40,435.2) scale(0.9511,1)" font-size="14.1" font-weight="normal" font-style="normal" stroke="#000" stroke-width="0.9">(&#916;/&#916;)</text>
<text transform="translate(474.68,435.2) scale(0.9709,1)" font-size="14.1" font-weight="normal" font-style="normal" stroke="#000" stroke-width="0.9">(&#916;/&#916;)</text>
<line x1="368.4" y1="441.2" x2="449.4" y2="441.2" stroke="#000" stroke-width="1.6"/>
<line x1="473.4" y1="441.2" x2="504.0" y2="441.2" stroke="#000" stroke-width="1.6"/>
<text transform="translate(401.83,457.2) scale(0.8836,1)" font-size="14.1" font-weight="normal" font-style="italic" stroke="#000" stroke-width="0.9">Plk1</text>
<text transform="translate(471.21,457.2) scale(0.8872,1)" font-size="14.1" font-weight="normal" font-style="italic" stroke="#000" stroke-width="0.9">Cdc20</text>
</g>
</svg>
</body></html>
